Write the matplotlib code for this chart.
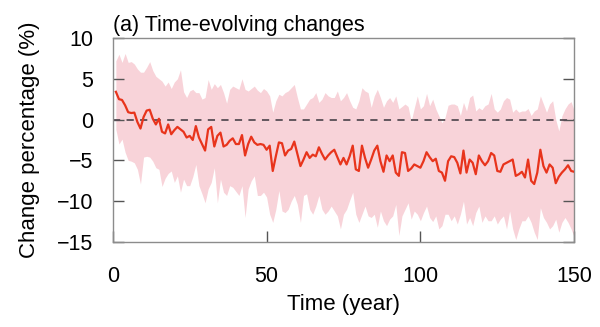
import numpy as np
import matplotlib
matplotlib.use("Agg")
import matplotlib.pyplot as plt

plt.rcParams['font.family'] = ['Liberation Sans', 'DejaVu Sans']

# Mean change (%) per year
years = np.arange(1, 151)
mean_change = [
    3.4, 2.5, 2.4, 1.75, 0.9, 0.8, 0.85, -0.3, -1.1, 0.3,
    1.1, 1.2, 0.1, -0.6, 0.1, -1.5, -1.7, -0.6, -1.8, -1.3,
    -0.9, -1.2, -1.5, -2.2, -2.0, -2.5, -0.8, -2.2, -3.0, -3.8,
    -1.2, -0.9, -3.3, -2.0, -1.6, -3.3, -3.1, -2.6, -2.3, -3.0,
    -3.0, -1.9, -4.4, -3.0, -2.1, -2.8, -3.1, -3.0, -3.1, -3.7,
    -3.2, -6.3, -4.5, -2.8, -2.9, -4.4, -3.8, -3.6, -2.7, -4.2,
    -5.7, -4.9, -4.0, -4.7, -4.3, -4.5, -3.4, -4.2, -4.9, -4.4,
    -4.0, -3.7, -4.6, -5.5, -4.7, -5.5, -4.5, -3.2, -6.1, -6.3,
    -3.2, -4.7, -5.9, -4.9, -3.8, -3.2, -5.1, -6.4, -4.4, -5.1,
    -4.4, -6.5, -6.9, -4.0, -4.1, -6.3, -6.0, -5.5, -5.7, -5.9,
    -5.1, -4.0, -4.6, -5.1, -4.8, -6.3, -6.5, -7.5, -5.1, -4.5,
    -4.6, -5.3, -6.6, -3.8, -6.5, -4.9, -5.3, -6.7, -4.4, -5.1,
    -5.6, -5.1, -4.1, -4.4, -6.3, -6.4, -5.5, -5.3, -5.1, -4.9,
    -6.9, -6.7, -6.4, -7.1, -4.9, -7.5, -7.9, -6.5, -3.7, -5.7,
    -6.5, -5.5, -5.9, -7.8, -7.0, -6.5, -6.1, -5.6, -6.3, -6.4,
]

# Upper edge of the shaded spread
upper_change = [
    7.2, 8.0, 7.0, 8.1, 7.0, 7.1, 6.8, 6.2, 5.8, 5.8,
    6.4, 7.1, 6.0, 5.3, 5.0, 4.7, 4.1, 4.6, 3.8, 4.6,
    5.0, 6.1, 3.4, 2.7, 3.5, 3.7, 3.3, 3.3, 2.5, 2.7,
    4.9, 3.7, 4.4, 3.9, 4.3, 3.3, 2.0, 3.7, 4.1, 3.9,
    3.7, 5.0, 3.7, 3.5, 3.8, 4.1, 3.6, 3.3, 3.8, 3.5,
    2.9, 0.9, 2.3, 3.1, 2.9, 3.3, 3.5, 3.9, 4.3, 2.7,
    1.3, 1.3, 1.9, 2.5, 2.7, 3.3, 2.1, 2.5, 3.3, 2.9,
    2.7, 2.7, 3.5, 2.3, 2.7, 3.3, 2.3, 1.5, 1.3, 2.3,
    3.9, 3.5, 3.3, 1.5, 2.9, 3.7, 2.7, 1.5, 2.3, 2.7,
    2.1, 2.9, 1.3, 1.6, 1.9, 1.6, -0.2, 1.4, 2.9, 1.3,
    1.7, 3.2, 1.7, 2.5, 1.3, 0.45, -0.4, 0.25, 1.75, 1.9,
    1.9, 1.7, 0.5, 2.1, 1.05, 2.7, 3.0, 1.05, 1.45, 1.2,
    1.7, 1.9, 3.2, 1.3, 0.9, 1.3, 2.3, 2.7, 2.5, 0.9,
    1.3, 0.9, 1.05, 1.05, 1.35, 0.5, 1.05, 1.3, 2.9, 1.9,
    0.9, 1.9, 2.3, 0.0, -1.4, 0.45, 1.3, 1.9, 2.2, 1.05,
]

# Lower edge of the shaded spread
lower_change = [
    -1.2, -3.0, -2.4, -4.0, -5.0, -5.1, -5.3, -6.1, -7.9, -4.6,
    -4.5, -4.6, -5.1, -5.9, -6.1, -8.2, -7.2, -6.6, -6.3, -7.7,
    -6.9, -8.9, -7.3, -8.1, -8.1, -7.0, -5.5, -8.1, -9.1, -10.2,
    -8.5, -7.7, -5.9, -10.2, -7.3, -8.9, -9.3, -8.1, -8.3, -8.8,
    -9.3, -8.1, -12.0, -8.5, -7.5, -6.9, -9.3, -9.3, -8.9, -9.5,
    -11.6, -12.6, -11.0, -8.7, -11.2, -11.4, -11.0, -10.0, -9.3, -10.4,
    -12.6, -9.3, -9.1, -11.0, -11.6, -10.6, -9.3, -11.0, -11.6, -11.2,
    -10.6, -11.2, -11.8, -13.4, -11.6, -11.0, -9.9, -8.9, -11.6, -12.6,
    -11.6, -10.6, -11.8, -12.0, -11.6, -13.2, -11.2, -12.4, -13.0, -12.2,
    -11.8, -10.4, -14.2, -11.8, -11.0, -10.2, -12.2, -11.2, -11.6, -12.4,
    -11.4, -10.6, -12.0, -12.5, -11.8, -13.4, -13.0, -11.6, -11.6, -12.4,
    -11.8, -12.8, -11.6, -10.0, -12.8, -12.0, -13.0, -11.4, -10.6, -12.6,
    -11.8, -12.4, -12.4, -11.8, -12.8, -12.2, -11.8, -13.4, -11.2, -13.4,
    -14.7, -13.4, -12.4, -12.4, -11.8, -12.6, -13.8, -14.7, -10.8, -12.0,
    -12.6, -13.4, -13.0, -12.2, -13.8, -12.6, -12.0, -12.6, -13.4, -14.4,
]

x_ticks = [0, 50, 100, 150]
y_ticks = [10, 5, 0, -5, -10, -15]

fig = plt.figure(figsize=(6.0, 3.27), dpi=100)
ax = fig.add_axes([0.188, 0.26, 0.769, 0.624])

ax.fill_between(years, lower_change, upper_change, color="#f8d3d9", linewidth=0)
ax.axhline(0, color="#574e55", linestyle=(0, (4, 3.5)), linewidth=1.3, zorder=2)
ax.plot(years, mean_change, color="#e8341c", linewidth=1.6, zorder=3)

ax.set_xlim(0, 150)
ax.set_ylim(-15, 10)
ax.set_xticks(x_ticks)
ax.set_yticks(y_ticks)

for side in ax.spines.values():
    side.set_color("#8c8c8c")
    side.set_linewidth(1.0)

ax.tick_params(axis="both", direction="in", length=8, width=1.0, color="#555555",
               labelsize=15.5, pad=14)
ax.tick_params(axis="y", right=True)
ax.tick_params(axis="x", top=False, pad=17)

ax.set_xlabel("Time (year)", fontsize=16, labelpad=5)
ax.set_ylabel("Change percentage (%)", fontsize=16, labelpad=12)
ax.set_title("(a) Time-evolving changes", loc="left", fontsize=15.5, pad=5)

fig.savefig("out.png", dpi=100)
